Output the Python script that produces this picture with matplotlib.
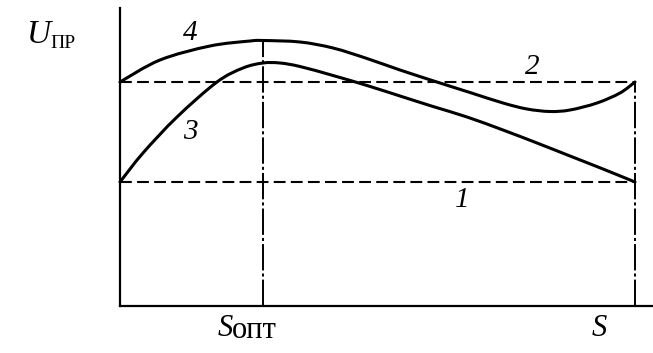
import matplotlib
matplotlib.use("Agg")
import matplotlib.pyplot as plt
from matplotlib.path import Path
from matplotlib.patches import PathPatch

plt.rcParams["font.family"] = ["Liberation Serif", "DejaVu Serif"]
plt.rcParams["lines.scale_dashes"] = False

# Characteristic levels and feed values (arbitrary units)
S_MAX = 51.5        # S
S_OPT = 14.3        # S_opt
U_LEVEL_1 = 12.4    # line 1
U_LEVEL_2 = 22.4    # line 2

# Curve 4: upper curve
s4 = [0.0, 4.0, 9.0, 13.0, 14.3, 18.0, 21.3, 24.7, 28.0, 32.0, 35.0,
      38.3, 40.7, 43.0, 45.0, 47.7, 50.0, 51.5]
u4 = [22.4, 24.6, 26.0, 26.5, 26.55, 26.4, 25.8, 24.75, 23.6, 22.3, 21.35,
      20.3, 19.7, 19.45, 19.6, 20.3, 21.3, 22.4]

# Curve 3: lower curve
s3 = [0.0, 2.3, 5.7, 9.7, 12.3, 14.3, 16.0, 18.0, 21.3, 24.7, 28.0, 31.3,
      34.7, 38.3, 41.7, 45.0, 48.3, 51.5]
u3 = [12.4, 15.3, 18.9, 22.4, 23.8, 24.3, 24.3, 23.95, 23.05, 22.05, 21.0,
      19.95, 18.9, 17.6, 16.3, 15.0, 13.7, 12.4]


def smooth_path(xs, ys):
    """Cubic Bezier path through the given points (Catmull-Rom tangents)."""
    pts = list(zip(xs, ys))
    n = len(pts)
    verts = [pts[0]]
    codes = [Path.MOVETO]
    for i in range(n - 1):
        p0 = pts[i - 1] if i > 0 else pts[i]
        p1 = pts[i]
        p2 = pts[i + 1]
        p3 = pts[i + 2] if i + 2 < n else pts[i + 1]
        c1 = (p1[0] + (p2[0] - p0[0]) / 6, p1[1] + (p2[1] - p0[1]) / 6)
        c2 = (p2[0] - (p3[0] - p1[0]) / 6, p2[1] - (p3[1] - p1[1]) / 6)
        verts += [c1, c2, p2]
        codes += [Path.CURVE4] * 3
    return Path(verts, codes)


W, H = 653, 353
fig = plt.figure(figsize=(W / 100, H / 100), dpi=100)
ax = fig.add_axes([120 / W, (H - 306) / H, (W - 120) / W, 306 / H])
ax.set_xlim(0, (W - 120) / 10)
ax.set_ylim(0, 30.6)
ax.set_xticks([])
ax.set_yticks([])
for side in ("top", "right"):
    ax.spines[side].set_visible(False)
for side in ("left", "bottom"):
    ax.spines[side].set_linewidth(1.6)
    ax.spines[side].set_color("black")
ax.spines["left"].set_bounds(0, 29.8)

dash = (0, (8.5, 3.8))
dashdot = (0, (19, 2.2, 2.2, 2.2))

# Horizontal levels 1 and 2
ax.plot([0, S_MAX], [U_LEVEL_1, U_LEVEL_1], color="black", lw=1.5,
        linestyle=dash, clip_on=False)
ax.plot([0, S_MAX], [U_LEVEL_2, U_LEVEL_2], color="black", lw=1.5,
        linestyle=dash, clip_on=False)

# Vertical guides at S_opt and S
ax.plot([S_OPT, S_OPT], [0, max(u4)], color="black", lw=1.4,
        linestyle=dashdot, clip_on=False)
ax.plot([S_MAX, S_MAX], [0, U_LEVEL_2], color="black", lw=1.4,
        linestyle=dashdot, clip_on=False)

# Curves 3 and 4
for xs, ys in ((s4, u4), (s3, u3)):
    ax.add_patch(PathPatch(smooth_path(xs, ys), facecolor="none",
                           edgecolor="black", lw=2.2, capstyle="round",
                           joinstyle="round", clip_on=False))

# Curve labels
lab = dict(fontsize=21, style="italic", ha="center", va="center",
           clip_on=False)
ax.text(7.0, 27.3, "4", **lab)
ax.text(7.0, 17.4, "3", **lab)
ax.text(41.2, 23.9, "2", **lab)
ax.text(34.2, 10.6, "1", **lab)

# Axis labels
ax.text(-6.9, 27.1, "U", fontsize=24, style="italic", ha="right",
        va="center", clip_on=False)
ax.text(-7.0, 26.2, "ПР", fontsize=14, ha="left", va="center",
        clip_on=False)
ax.text(11.3, -2.3, "S", fontsize=22, style="italic", ha="right",
        va="center", clip_on=False)
ax.text(11.2, -2.4, "опт", fontsize=22, ha="left", va="center",
        clip_on=False)
ax.text(47.9, -2.3, "S", fontsize=22, style="italic", ha="center",
        va="center", clip_on=False)

fig.savefig("out.png", dpi=100)
